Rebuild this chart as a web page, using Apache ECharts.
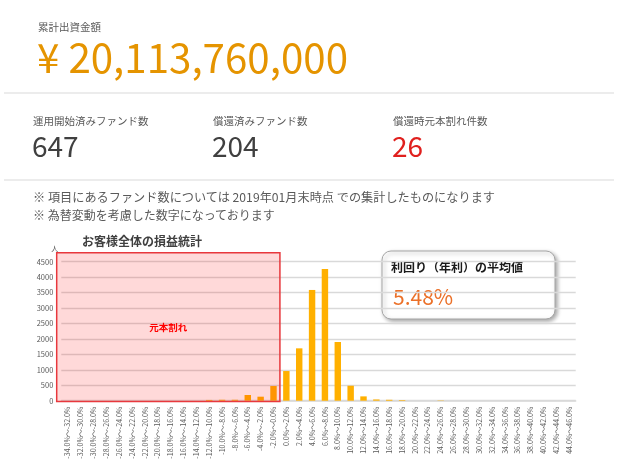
<!DOCTYPE html>
<html><head><meta charset="utf-8">
<script src="https://cdn.jsdelivr.net/npm/echarts@6/dist/echarts.min.js"></script>
<style>
html,body{margin:0;padding:0;background:#fff;width:618px;height:473px;overflow:hidden;font-family:"Noto Sans CJK JP","Noto Sans",sans-serif;}
#chart{position:absolute;left:0;top:0;width:618px;height:473px;}
.t{position:absolute;white-space:nowrap;line-height:1;}
.hr{position:absolute;left:4px;width:610px;height:2px;background:#ececec;}
</style></head><body>
<div id="chart"></div>
<div id="hdr"></div>
<script>
// ---- header data ----
const totalLabel = '累計出資金額';
const totalValue = '¥ 20,113,760,000';
const statLabels = ['運用開始済みファンド数', '償還済みファンド数', '償還時元本割れ件数'];
const statValues = ['647', '204', '26'];
const notes = ['※ 項目にあるファンド数については 2019年01月末時点 での集計したものになります', '※ 為替変動を考慮した数字になっております'];
const chartTitle = 'お客様全体の損益統計';
const calloutTitle = '利回り（年利）の平均値';
const calloutValue = '5.48%';
const areaLabel = '元本割れ';
const yUnit = '人';

// ---- chart data ----
const categories = ['-34.0%～-32.0%','-32.0%～-30.0%','-30.0%～-28.0%','-28.0%～-26.0%','-26.0%～-24.0%','-24.0%～-22.0%','-22.0%～-20.0%','-20.0%～-18.0%','-18.0%～-16.0%','-16.0%～-14.0%','-14.0%～-12.0%','-12.0%～-10.0%','-10.0%～-8.0%','-8.0%～-6.0%','-6.0%～-4.0%','-4.0%～-2.0%','-2.0%～0.0%','0.0%～2.0%','2.0%～4.0%','4.0%～6.0%','6.0%～8.0%','8.0%～10.0%','10.0%～12.0%','12.0%～14.0%','14.0%～16.0%','16.0%～18.0%','18.0%～20.0%','20.0%～22.0%','22.0%～24.0%','24.0%～26.0%','26.0%～28.0%','28.0%～30.0%','30.0%～32.0%','32.0%～34.0%','34.0%～36.0%','36.0%～38.0%','38.0%～40.0%','40.0%～42.0%','42.0%～44.0%','44.0%～46.0%'];
const counts = [0,0,0,0,0,0,0,0,0,0,0,25,30,30,185,130,475,960,1695,3585,4265,1900,485,140,40,30,20,0,0,10,0,0,0,0,0,0,0,0,0,0];
const binLow = -34, binHigh = 46;   // return range covered by the bins (%)
const lossTo = 0;                   // loss area ends at 0%
const yMin = 0, yMax = 4500, yInterval = 500;

// ---- header ----
const hdr = document.getElementById('hdr');
function addText(txt, left, top, size, color, extra) {
  const d = document.createElement('div');
  d.className = 't'; d.textContent = txt;
  d.style.left = left + 'px'; d.style.top = top + 'px';
  d.style.fontSize = size + 'px'; d.style.color = color;
  if (extra) Object.assign(d.style, extra);
  hdr.appendChild(d); return d;
}
function fitWidth(el, w) {
  const r = el.getBoundingClientRect().width;
  el.style.transformOrigin = '0 0';
  el.style.transform = 'scaleX(' + (w / r) + ')';
}
addText(totalLabel, 38, 22, 10.5, '#595959');
const tv = addText(totalValue, 37, 35, 41, '#E59400');
fitWidth(tv, 311);
const hr1 = document.createElement('div'); hr1.className = 'hr'; hr1.style.top = '92px'; hdr.appendChild(hr1);
const colX = [33, 213, 393];
statLabels.forEach((s, i) => addText(s, colX[i], 116, 10.5, '#595959'));
statValues.forEach((s, i) => addText(s, colX[i] - 1, 131, 28, i === 2 ? '#E0201E' : '#404040'));
const hr2 = document.createElement('div'); hr2.className = 'hr'; hr2.style.top = '179px'; hdr.appendChild(hr2);
const n0 = addText(notes[0], 33, 191, 12, '#595959');
fitWidth(n0, 462);
const n1 = addText(notes[1], 33, 209, 12, '#595959');
addText(chartTitle, 82, 235, 12, '#404040', {fontWeight: 'bold'});

// ---- chart ----
const gridLeft = 61.3, gridRight = 42.3, boxLeft = 56.7;
const pxPerUnit = (618 - gridLeft - gridRight) / (binHigh - binLow);
const boxAxisMin = binLow - (gridLeft - boxLeft) / pxPerUnit;

const chart = echarts.init(document.getElementById('chart'), null, {renderer: 'canvas'});
const font = '"Noto Sans CJK JP","Noto Sans",sans-serif';
chart.setOption({
  animation: false,
  textStyle: {fontFamily: font},
  grid: [
    {left: gridLeft, right: gridRight, top: 261.7, bottom: 72.3},
    {left: boxLeft, right: gridRight, top: 252.7, bottom: 71.5}
  ],
  xAxis: [
    {type: 'category', gridIndex: 0, data: categories,
     axisTick: {show: false},
     axisLine: {lineStyle: {color: '#d9d9d9', width: 1.5}},
     axisLabel: {rotate: 90, interval: 0, fontSize: 7, color: '#595959', margin: 6}},
    {type: 'value', gridIndex: 1, min: boxAxisMin, max: binHigh, show: false}
  ],
  yAxis: [
    {type: 'value', gridIndex: 0, min: yMin, max: yMax, interval: yInterval,
     name: yUnit, nameGap: 10,
     nameTextStyle: {fontSize: 7, color: '#595959', align: 'right', padding: [0, 3, 0, 0]},
     axisLine: {show: false}, axisTick: {show: false},
     axisLabel: {fontSize: 7.5, color: '#595959', margin: 8, formatter: v => String(v)},
     splitLine: {lineStyle: {color: '#d9d9d9', width: 1.3}}},
    {type: 'value', gridIndex: 1, min: 0, max: 1, show: false}
  ],
  series: [
    {type: 'bar', xAxisIndex: 0, yAxisIndex: 0, data: counts, barWidth: '50%',
     itemStyle: {color: '#FFB000'}, z: 2},
    {type: 'line', xAxisIndex: 1, yAxisIndex: 1, data: [], symbol: 'none',
     markArea: {z: 5, silent: true,
       itemStyle: {color: 'rgba(255,0,0,0.15)', borderColor: '#E8383D', borderWidth: 1.5},
       label: {show: true, position: 'inside', color: '#FF0000', fontWeight: 'bold', fontSize: 9.5},
       data: [[{name: areaLabel, xAxis: boxAxisMin, yAxis: 0}, {xAxis: lossTo, yAxis: 1}]]}}
  ],
  graphic: [{
    type: 'group', x: 382, y: 251, z: 20,
    children: [
      {type: 'rect', shape: {x: 0, y: 0, width: 173, height: 68, r: 9},
       style: {fill: '#fff', stroke: '#a6a6a6', lineWidth: 1, shadowBlur: 4, shadowOffsetX: 2, shadowOffsetY: 2, shadowColor: 'rgba(0,0,0,0.35)'}},
      {type: 'text', x: 9, y: 16.5, style: {text: calloutTitle, font: 'bold 12px ' + font, fill: '#1a1a1a', verticalAlign: 'middle'}},
      {type: 'text', x: 11, y: 46.5, style: {text: calloutValue, font: '21px ' + font, fill: '#EB7028', verticalAlign: 'middle'}}
    ]
  }]
});
</script>
</body></html>
